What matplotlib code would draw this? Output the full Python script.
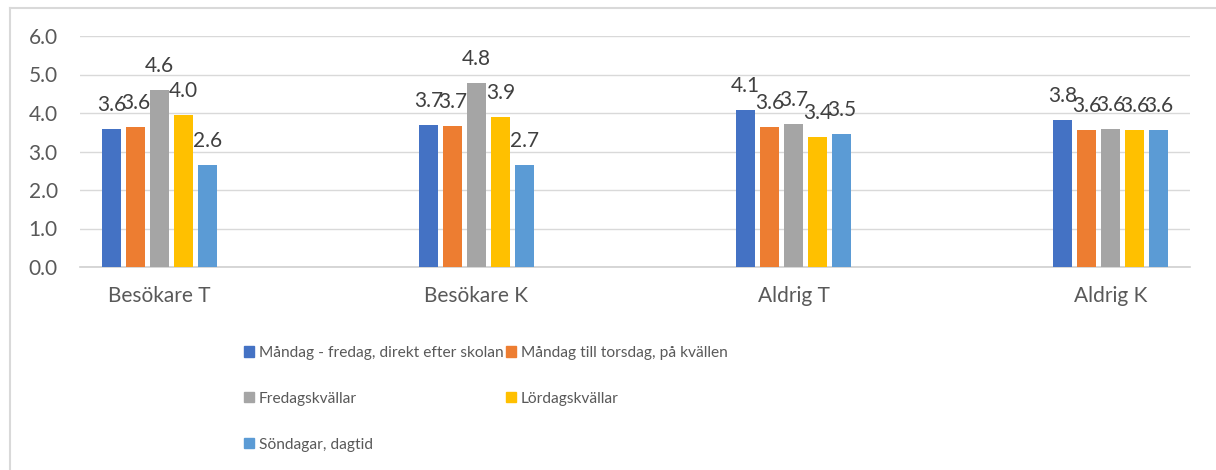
import numpy as np
import matplotlib
matplotlib.use('Agg')
import matplotlib.pyplot as plt
from matplotlib.patches import Patch
from matplotlib.lines import Line2D

plt.rcParams['font.family'] = ['Lato', 'DejaVu Sans']

# data
categories = ['Besökare T', 'Besökare K', 'Aldrig T', 'Aldrig K']
series_names = ['Måndag - fredag, direkt efter skolan',
                'Måndag till torsdag, på kvällen',
                'Fredagskvällar',
                'Lördagskvällar',
                'Söndagar, dagtid']
mon_fri_school = [3.59, 3.68, 4.08, 3.82]
mon_thu_evening = [3.64, 3.66, 3.63, 3.57]
fri_evening = [4.61, 4.77, 3.71, 3.59]
sat_evening = [3.96, 3.90, 3.38, 3.56]
sun_daytime = [2.64, 2.66, 3.45, 3.57]
series = [mon_fri_school, mon_thu_evening, fri_evening, sat_evening, sun_daytime]
colors = ['#4472C4', '#ED7D31', '#A5A5A5', '#FFC000', '#5B9BD5']

TEXT = '#595959'

fig = plt.figure(figsize=(12.16, 4.70), dpi=100)
ax = fig.add_axes([80/1216, 1-267/470, 1110/1216, 231/470])

# categories sit in every other slot (blank slots between)
xpos = np.arange(len(categories)) * 2
step = 0.1513
width = 0.123
for i, (vals, col) in enumerate(zip(series, colors)):
    bars = ax.bar(xpos + (i - 2) * step, vals, width, color=col, zorder=3,
                  label=series_names[i])
    ax.bar_label(bars, fmt='%.1f', padding=10, fontsize=15, color='#404040')

ax.set_xlim(-0.5, 6.5)
ax.set_ylim(0, 6)
ax.set_yticks(np.arange(0, 6.1, 1.0))
ax.set_yticklabels([f'{v:.1f}' for v in np.arange(0, 6.1, 1.0)])
ax.set_xticks(xpos)
ax.set_xticklabels(categories)
ax.tick_params(axis='both', length=0, labelsize=15, colors=TEXT)
ax.tick_params(axis='y', pad=16)
ax.tick_params(axis='x', pad=14)
ax.grid(axis='y', color='#D9D9D9', linewidth=1.0, zorder=0)
for s in ['top', 'right', 'left']:
    ax.spines[s].set_visible(False)
ax.spines['bottom'].set_color('#D0D0D0')
ax.spines['bottom'].set_linewidth(1.2)

# legend, filled row by row
handles = [Patch(color=c) for c in colors]
order = [0, 2, 4, 1, 3]
fig.legend([handles[k] for k in order], [series_names[k] for k in order],
           ncol=2, loc='upper left', bbox_to_anchor=(236/1216, 1-338/470),
           frameon=False, labelcolor=TEXT, fontsize=11.2,
           handlelength=0.65, handleheight=0.65, handletextpad=0.3,
           columnspacing=0.2, labelspacing=2.05, borderpad=0)

# chart frame (top and left edges visible)
fig.add_artist(Line2D([10/1216, 10/1216], [0, 1-8/470], color='#D9D9D9', lw=1.5))
fig.add_artist(Line2D([10/1216, 1], [1-8/470, 1-8/470], color='#D9D9D9', lw=1.5))

fig.savefig('out.png', dpi=100, facecolor='white')
